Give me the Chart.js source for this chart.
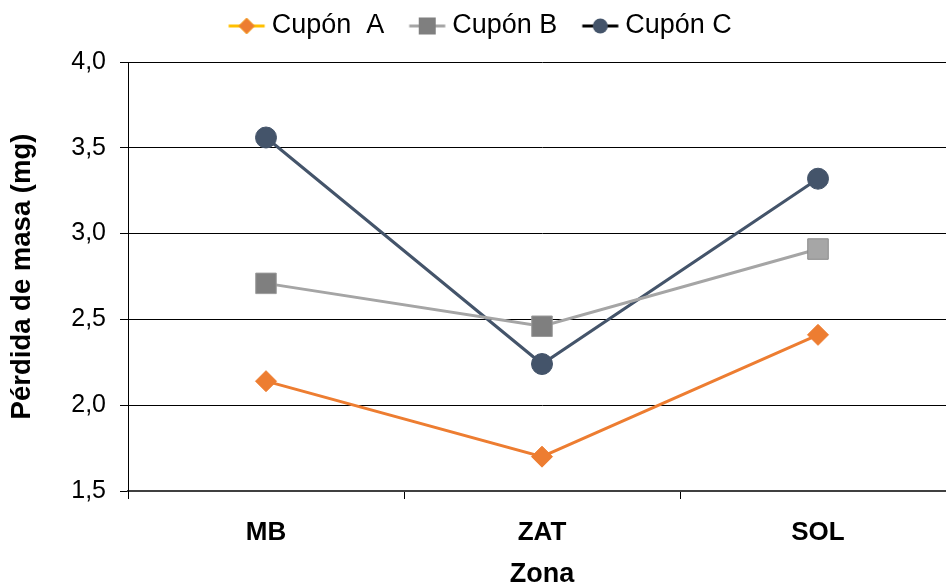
<!DOCTYPE html>
<html>
<head>
<meta charset="utf-8">
<script src="https://cdn.jsdelivr.net/npm/chart.js@4"></script>
<style>
html{margin:0;padding:0;overflow:hidden;background:#fff;}
body{margin:0;padding:0;background:#fff;width:960px;height:587px;overflow:hidden;}
canvas{display:block;width:960px;height:587px;}
</style>
</head>
<body>
<canvas id="c" width="960" height="587"></canvas>
<script>
const categories = ['MB', 'ZAT', 'SOL'];
const cuponA = [2.14, 1.70, 2.41];
const cuponB = [2.71, 2.46, 2.91];
const cuponC = [3.56, 2.24, 3.32];
const seriesNames = ['Cupón  A', 'Cupón B', 'Cupón C'];
const yTickLabels = ['1,5', '2,0', '2,5', '3,0', '3,5', '4,0'];
const yMin = 1.5, yMax = 4.0, yStep = 0.5;

const ORANGE = '#ED7D31', YELLOW = '#FFC000', GRAY = '#A5A5A5', DGRAY = '#7F7F7F', NAVY = '#44546A';
const FONT = 'Liberation Sans, Arial, sans-serif';
const LEG_PW = 42, LEG_FS = 27;
const RIGHT_PAD = 4;

function legendIcon(kind) {
  const lineStart = LEG_PW + LEG_FS / 2 - 43;
  const lineEnd = lineStart + 36;
  const center = LEG_PW / 2;
  const half = Math.ceil(Math.max(center - lineStart, lineEnd - center)) + 1;
  const W = half * 2;
  const c = document.createElement('canvas');
  c.width = W; c.height = 22;
  const g = c.getContext('2d');
  const off = half - center;
  const x0 = lineStart + off, x1 = lineEnd + off, cy = 11, cx = (x0 + x1) / 2;
  g.lineWidth = 3;
  g.strokeStyle = kind === 'A' ? YELLOW : kind === 'B' ? GRAY : '#000';
  g.beginPath(); g.moveTo(x0, cy); g.lineTo(x1, cy); g.stroke();
  if (kind === 'A') {
    g.fillStyle = ORANGE; g.strokeStyle = '#F5A020'; g.lineWidth = 1;
    g.beginPath(); g.moveTo(cx, cy - 8); g.lineTo(cx + 8, cy); g.lineTo(cx, cy + 8); g.lineTo(cx - 8, cy); g.closePath(); g.fill(); g.stroke();
  } else if (kind === 'B') {
    g.fillStyle = DGRAY; g.fillRect(cx - 8.5, cy - 8.5, 17, 17);
  } else {
    g.fillStyle = NAVY; g.beginPath(); g.arc(cx, cy, 7.5, 0, Math.PI * 2); g.fill();
  }
  return c;
}
const icons = [legendIcon('A'), legendIcon('B'), legendIcon('C')];

const layoutPlugin = {
  id: 'layoutTweak',
  afterInit(chart) {
    const lg = chart.legend;
    if (!lg) return;
    const orig = lg.fit.bind(lg);
    lg.fit = function () { orig(); this.height = 62; };
  },
  afterLayout(chart) {
    // extend the plot area to the right edge (the reference plot runs past the frame)
    const ca = chart.chartArea;
    const right = chart.width - RIGHT_PAD;
    ca.right = right; ca.width = right - ca.left;
    const xs = chart.scales.x;
    xs.right = right; xs.width = right - xs.left;
    xs.configure();
    if (chart.legend) { chart.legend.right -= 8; }
  }
};

new Chart(document.getElementById('c'), {
  type: 'line',
  data: {
    labels: categories,
    datasets: [
      { label: seriesNames[0], data: cuponA, borderColor: ORANGE, borderWidth: 3,
        pointStyle: 'rectRot', pointRadius: 10.5, pointBackgroundColor: ORANGE, pointBorderColor: ORANGE, pointBorderWidth: 1, tension: 0, fill: false },
      { label: seriesNames[1], data: cuponB, borderColor: GRAY, borderWidth: 3,
        pointStyle: 'rect', pointRadius: 14.5, pointBackgroundColor: [DGRAY, DGRAY, '#A6A6A6'], pointBorderColor: ['#9A9A9A', '#9A9A9A', '#8A8A8A'], pointBorderWidth: 1, tension: 0, fill: false },
      { label: seriesNames[2], data: cuponC, borderColor: NAVY, borderWidth: 3,
        pointStyle: 'circle', pointRadius: 10.5, pointBackgroundColor: NAVY, pointBorderColor: NAVY, pointBorderWidth: 1, tension: 0, fill: false }
    ]
  },
  plugins: [layoutPlugin],
  options: {
    responsive: false,
    animation: false,
    layout: { padding: { top: 0, right: RIGHT_PAD, bottom: 0, left: 0 } },
    plugins: {
      tooltip: { enabled: false },
      legend: {
        position: 'top',
        labels: {
          usePointStyle: true,
          pointStyleWidth: LEG_PW,
          padding: 12.5,
          color: '#000',
          font: { family: FONT, size: LEG_FS },
          generateLabels: (chart) => chart.data.datasets.map((d, i) => ({
            text: d.label, pointStyle: icons[i], fillStyle: 'transparent', strokeStyle: 'transparent',
            lineWidth: 0, hidden: false, datasetIndex: i, fontColor: '#000'
          }))
        }
      }
    },
    scales: {
      x: {
        offset: true,
        afterFit: (s) => { s.height = 96; s.paddingLeft = 0; s.paddingRight = 0; },
        grid: { offset: true, drawOnChartArea: false, drawTicks: true, tickLength: 8, color: '#000', lineWidth: 1 },
        border: { color: '#404040', width: 2 },
        ticks: { color: '#000', padding: 18, font: { family: FONT, size: 26, weight: 'bold' } },
        title: { display: true, text: 'Zona', color: '#000', padding: { top: 4, bottom: -4 },
          font: { family: FONT, size: 27, weight: 'bold' } }
      },
      y: {
        min: yMin, max: yMax,
        afterFit: (s) => { s.width = 128; },
        afterBuildTicks: (s) => { s.ticks = yTickLabels.map((t, i) => ({ value: yMin + i * yStep })); },
        grid: { color: '#000', lineWidth: 1, drawTicks: true, tickLength: 8, tickColor: '#000' },
        border: { color: '#000', width: 1 },
        ticks: { color: '#000', padding: 14, stepSize: yStep,
          callback: (v, i) => yTickLabels[i],
          font: { family: FONT, size: 25 } },
        title: { display: true, text: 'Pérdida de masa (mg)', color: '#000', padding: { top: 6, bottom: 0 },
          font: { family: FONT, size: 27.5, weight: 'bold' } }
      }
    }
  }
});
</script>
</body>
</html>
